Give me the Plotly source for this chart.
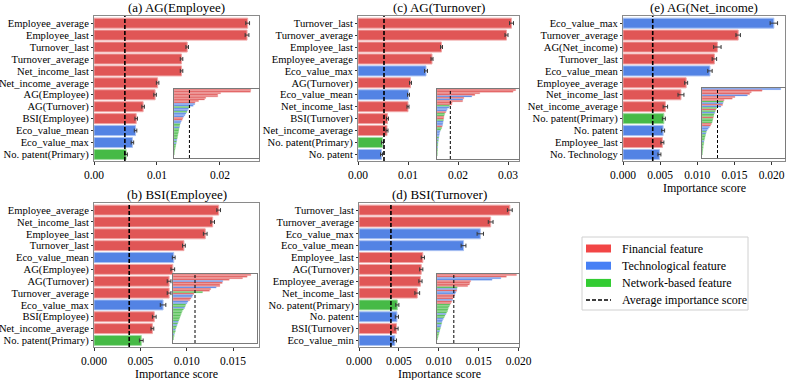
import plotly.graph_objects as go

W, H = 789, 380

# colours per feature type: F financial, T technological, N network-based
BAR = {"F": "#E05656", "T": "#5383E4", "N": "#46BA46"}
EDGE = {"F": "#F0A6A6", "T": "#A9C1F2", "N": "#A3DCA3"}
LEG = {"F": "#F24646", "T": "#4780F5", "N": "#33CC33"}

# (a) AG(Employee)
a_labels = ["Employee_average", "Employee_last", "Turnover_last", "Turnover_average",
            "Net_income_last", "Net_income_average", "AG(Employee)", "AG(Turnover)",
            "BSI(Employee)", "Eco_value_mean", "Eco_value_max", "No. patent(Primary)"]
a_values = [0.0244, 0.0243, 0.0148, 0.0139, 0.0139, 0.0101, 0.0097, 0.0078, 0.0067, 0.0066, 0.0061, 0.0051]
a_errors = [0.0003, 0.0003, 0.0002, 0.0002, 0.0002, 0.0002, 0.0002, 0.0002, 0.0002, 0.0002, 0.0002, 0.0002]
a_types = "FFFFFFFFFTTN"
a_tail = [0.0046, 0.0043, 0.0041, 0.0038, 0.0035, 0.0031, 0.0028, 0.0026, 0.0023, 0.0021,
          0.0019, 0.0018, 0.0017, 0.0016, 0.0015, 0.0014, 0.0013, 0.0012, 0.0011, 0.0010,
          0.0009, 0.0008, 0.0007, 0.0006, 0.0005, 0.0004, 0.0003, 0.0002, 0.0001, 0.0001]
a_tail_types = "TTNTTTFFTTNNTNNNNNNNTNTNNNNNNN"
a_avg = 0.0049

# (b) BSI(Employee)
b_labels = ["Employee_average", "Net_income_last", "Employee_last", "Turnover_last",
            "Eco_value_mean", "AG(Employee)", "AG(Turnover)", "Turnover_average",
            "Eco_value_max", "BSI(Employee)", "Net_income_average", "No. patent(Primary)"]
b_values = [0.01345, 0.0128, 0.0120, 0.0097, 0.0086, 0.0085, 0.0081, 0.0081, 0.00745, 0.0065, 0.0063, 0.0051]
b_errors = [0.0002, 0.0002, 0.0002, 0.00015, 0.00015, 0.0002, 0.0002, 0.0002, 0.0003, 0.0002, 0.00015, 0.0002]
b_types = "FFFFTFFFTFFN"
b_tail = [0.0036, 0.0034, 0.0033, 0.0031, 0.0029, 0.0026, 0.0024, 0.0022, 0.0021, 0.0020,
          0.0018, 0.0016, 0.0015, 0.0014, 0.0013, 0.0012, 0.0011, 0.0010, 0.0009, 0.0008,
          0.0007, 0.0006, 0.0005, 0.0004, 0.0004, 0.0003, 0.0002, 0.0002, 0.0001, 0.0001]
b_tail_types = "FTTFFTTNNTNNNNNNNNTNTNNTNNTNNN"
b_avg = 0.0038

# (c) AG(Turnover)
c_labels = ["Turnover_last", "Turnover_average", "Employee_last", "Employee_average",
            "Eco_value_max", "AG(Turnover)", "Eco_value_mean", "Net_income_last",
            "BSI(Turnover)", "Net_income_average", "No. patent(Primary)", "No. patent"]
c_values = [0.0307, 0.0297, 0.0167, 0.0148, 0.0136, 0.0105, 0.0101, 0.0100, 0.0059, 0.0058, 0.0049, 0.0047]
c_errors = [0.0004, 0.0003, 0.0002, 0.0002, 0.0003, 0.0002, 0.0002, 0.0002, 0.0002, 0.0002, 0.0002, 0.0002]
c_types = "FFFFTFTFFFNT"
c_tail = [0.0040, 0.0037, 0.0034, 0.0030, 0.0028, 0.0027, 0.0026, 0.0025, 0.0024, 0.0023,
          0.0022, 0.0020, 0.0018, 0.0015, 0.0012, 0.0010, 0.0009, 0.0008, 0.0007, 0.0006,
          0.0005, 0.0004, 0.0004, 0.0003, 0.0003, 0.0002, 0.0002, 0.0001, 0.0001, 0.0001]
c_tail_types = "TTFNNFFNTTTFNNTTTTNTNTNNTNNNNN"
c_avg = 0.0052

# (d) BSI(Turnover)
d_labels = ["Turnover_last", "Turnover_average", "Eco_value_max", "Eco_value_mean",
            "Employee_last", "AG(Turnover)", "Employee_average", "Net_income_last",
            "No. patent(Primary)", "No. patent", "BSI(Turnover)", "Eco_value_min"]
d_values = [0.0189, 0.0165, 0.0152, 0.0131, 0.0080, 0.0078, 0.0077, 0.0073, 0.0048, 0.00475, 0.0047, 0.0045]
d_errors = [0.0003, 0.0003, 0.0004, 0.0003, 0.0002, 0.0002, 0.0002, 0.0003, 0.0002, 0.0002, 0.0002, 0.0002]
d_types = "FFTTFFFFNTFT"
d_tail = [0.0043, 0.0042, 0.0040, 0.0038, 0.0037, 0.0035, 0.0033, 0.0031, 0.0029, 0.0027,
          0.0026, 0.0025, 0.0023, 0.0021, 0.0019, 0.0017, 0.0015, 0.0013, 0.0012, 0.0011,
          0.0010, 0.0009, 0.0008, 0.0007, 0.0006, 0.0005, 0.0004, 0.0003, 0.0002, 0.0001]
d_tail_types = "TFFFTFFNNNNNNTNNTTTNTTNNTNNNNN"
d_avg = 0.0040

# (e) AG(Net_income)
e_labels = ["Eco_value_max", "Turnover_average", "AG(Net_income)", "Turnover_last",
            "Eco_value_mean", "Employee_average", "Net_income_last", "Net_income_average",
            "No. patent(Primary)", "No. patent", "Employee_last", "No. Technology"]
e_values = [0.0203, 0.0155, 0.0127, 0.0123, 0.0117, 0.0085, 0.0078, 0.0057, 0.0055, 0.0054, 0.0053, 0.0049]
e_errors = [0.0005, 0.0003, 0.0005, 0.0003, 0.0003, 0.0002, 0.0004, 0.0003, 0.0002, 0.0002, 0.0002, 0.0002]
e_types = "TFFFTFFFNTFT"
e_tail = [0.0038, 0.0036, 0.0034, 0.0033, 0.0031, 0.0030, 0.0029, 0.0028, 0.0027, 0.0026,
          0.0024, 0.0022, 0.0019, 0.0016, 0.0013, 0.0011, 0.0010, 0.0009, 0.0008, 0.0007,
          0.0006, 0.0005, 0.0005, 0.0004, 0.0003, 0.0003, 0.0002, 0.0002, 0.0001, 0.0001]
e_tail_types = "NFNTNNFNNNFFTTTNTNNNNTNNNNNNNN"
e_avg = 0.0040

FONT = "'Liberation Serif', 'Times New Roman', Times, serif"


def px(x0, x1, y0, y1):
    return [x0 / W, x1 / W], [1 - y1 / H, 1 - y0 / H]


panels = [
    # title, labels, values, errors, types, tail, tail types, avg, main box, xrange, dtick, fmt, inset box, inset range, xlabel
    ("(a) AG(Employee)", a_labels, a_values, a_errors, a_types, a_tail, a_tail_types, a_avg,
     (94, 259, 16, 161), 0.0262, 0.01, ".2f", (174, 259, 89, 158), 0.027, False),
    ("(c) AG(Turnover)", c_labels, c_values, c_errors, c_types, c_tail, c_tail_types, c_avg,
     (358, 519, 16, 161), 0.0322, 0.01, ".2f", (437, 519, 89, 159), 0.032, False),
    ("(e) AG(Net_income)", e_labels, e_values, e_errors, e_types, e_tail, e_tail_types, e_avg,
     (623, 785, 16, 161), 0.0218, 0.005, ".3f", (702, 785, 88, 158), 0.0214, True),
    ("(b) BSI(Employee)", b_labels, b_values, b_errors, b_types, b_tail, b_tail_types, b_avg,
     (94, 259, 203, 347), 0.0178, 0.005, ".3f", (173, 257, 274, 343), 0.0145, True),
    ("(d) BSI(Turnover)", d_labels, d_values, d_errors, d_types, d_tail, d_tail_types, d_avg,
     (359, 519, 203, 347), 0.02005, 0.005, ".3f", (437, 519, 274, 343), 0.0195, True),
]

fig = go.Figure()
layout = {}
shapes = []
annotations = []
n = len(panels)

for i, (title, labels, vals, errs, types, tail, ttypes, avg, box, xr, dt, fmt, ibox, ir, xlab) in enumerate(panels):
    # main axes
    k = i + 1
    xa, ya = ("x" if k == 1 else f"x{k}"), ("y" if k == 1 else f"y{k}")
    xd, yd = px(*box)
    fig.add_trace(go.Bar(
        x=vals, y=list(range(len(vals))), orientation="h", xaxis=xa, yaxis=ya, width=0.84,
        marker=dict(color=[BAR[t] for t in types], line=dict(color=[EDGE[t] for t in types], width=1)),
        error_x=dict(type="data", array=errs, color="#3a3a3a", thickness=1, width=2),
        showlegend=False, hoverinfo="skip"))
    layout["xaxis" if k == 1 else f"xaxis{k}"] = dict(
        domain=xd, anchor=ya, range=[0, xr], dtick=dt, tick0=0, tickformat=fmt, automargin=False,
        showgrid=False, zeroline=False, showline=True, mirror=True, linecolor="#8a8a8a", linewidth=1,
        ticks="outside", ticklen=3, tickcolor="#333", tickfont=dict(size=11.5, color="black", family=FONT))
    layout["yaxis" if k == 1 else f"yaxis{k}"] = dict(
        domain=yd, anchor=xa, range=[len(vals) - 0.45, -0.6], tickvals=list(range(len(vals))),
        ticktext=labels, showgrid=False, zeroline=False, showline=True, mirror=True, automargin=False,
        linecolor="#8a8a8a", linewidth=1, ticks="outside", ticklen=2, tickcolor="#333",
        tickfont=dict(size=10.6, color="black", family=FONT))
    shapes.append(dict(type="line", xref=xa, yref=f"{ya} domain", x0=avg, x1=avg, y0=0, y1=1,
                       line=dict(color="black", width=1.6, dash="4px,2px")))
    annotations.append(dict(text=title, x=(xd[0] + xd[1]) / 2, y=yd[1] + 9 / H, xref="paper", yref="paper",
                            showarrow=False, xanchor="center", yanchor="middle",
                            font=dict(size=13, color="black", family=FONT)))
    if xlab:
        annotations.append(dict(text="Importance score", x=(xd[0] + xd[1]) / 2, y=yd[0] - 27 / H,
                                xref="paper", yref="paper", showarrow=False, xanchor="center",
                                yanchor="middle", font=dict(size=12, color="black", family=FONT)))

    # inset with all features
    k2 = n + i + 1
    xa2, ya2 = f"x{k2}", f"y{k2}"
    allv = list(vals) + list(tail)
    allt = types + ttypes
    xd2, yd2 = px(*ibox)
    fig.add_trace(go.Bar(
        x=allv, y=list(range(len(allv))), orientation="h", xaxis=xa2, yaxis=ya2, width=0.85,
        marker=dict(color=[BAR[t] for t in allt], line=dict(color=[EDGE[t] for t in allt], width=0.4)),
        showlegend=False, hoverinfo="skip"))
    layout[f"xaxis{k2}"] = dict(domain=xd2, anchor=ya2, range=[0, ir], showticklabels=False, automargin=False,
                                showgrid=False, zeroline=False, showline=True, mirror=True,
                                linecolor="#7a7a7a", linewidth=1.2, ticks="")
    layout[f"yaxis{k2}"] = dict(domain=yd2, anchor=xa2, range=[len(allv) + 1.5, -0.6], automargin=False,
                                showticklabels=False, showgrid=False, zeroline=False, showline=True,
                                mirror=True, linecolor="#7a7a7a", linewidth=1.2, ticks="")
    shapes.append(dict(type="line", xref=xa2, yref=f"{ya2} domain", x0=avg, x1=avg, y0=0, y1=1,
                       line=dict(color="black", width=1, dash="3px,2px")))

# legend box drawn by hand
leg_items = [("F", "Financial feature"), ("T", "Technological feature"), ("N", "Network-based feature")]
shapes.append(dict(type="rect", xref="paper", yref="paper", x0=582 / W, x1=748 / W,
                   y0=1 - 310 / H, y1=1 - 237 / H, line=dict(color="#d0d0d0", width=1), fillcolor="white"))
for j, (t, name) in enumerate(leg_items):
    yc = 248.5 + j * 17.2
    shapes.append(dict(type="rect", xref="paper", yref="paper", x0=586 / W, x1=611 / W,
                       y0=1 - (yc + 4) / H, y1=1 - (yc - 4) / H, line=dict(width=0), fillcolor=LEG[t]))
    annotations.append(dict(text=name, x=620 / W, y=1 - yc / H, xref="paper", yref="paper",
                            showarrow=False, xanchor="left", yanchor="middle",
                            font=dict(size=12, color="black", family=FONT)))
yc = 300
shapes.append(dict(type="line", xref="paper", yref="paper", x0=586 / W, x1=611 / W,
                   y0=1 - yc / H, y1=1 - yc / H, line=dict(color="black", width=1.5, dash="4px,2px")))
annotations.append(dict(text="Average importance score", x=620 / W, y=1 - yc / H, xref="paper", yref="paper",
                        showarrow=False, xanchor="left", yanchor="middle",
                        font=dict(size=12, color="black", family=FONT)))

fig.update_layout(**layout)
fig.update_layout(template="none", width=W, height=H, autosize=False, margin=dict(l=0, r=0, t=0, b=0, pad=0),
                  paper_bgcolor="white", plot_bgcolor="white", shapes=shapes, annotations=annotations,
                  font=dict(family=FONT, color="black"), showlegend=False)
# the page's default body margin would push the figure 8px off the window origin
fig.write_html("out.html", config={"displayModeBar": False},
               post_script="document.body.style.margin='0px';")
